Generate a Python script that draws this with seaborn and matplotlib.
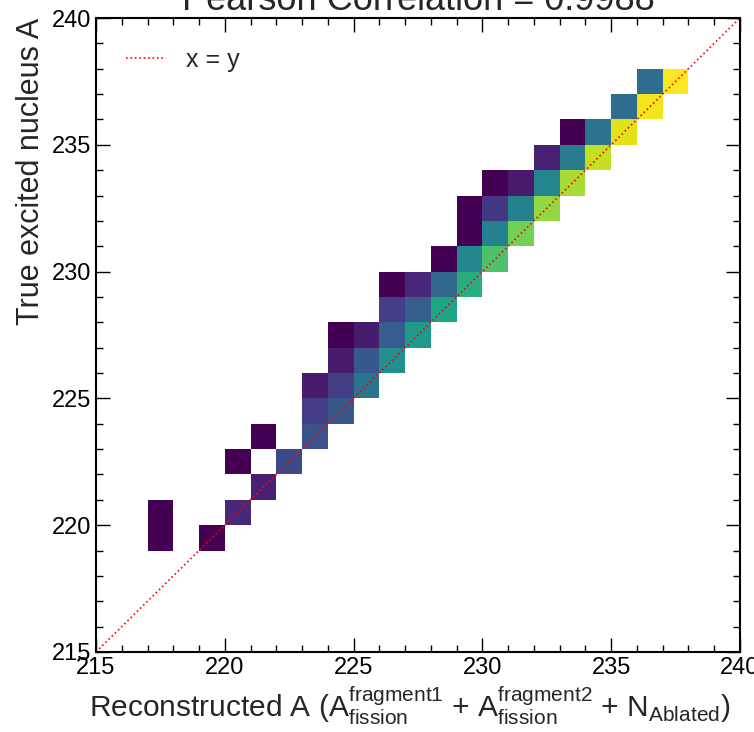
import numpy as np
import pandas as pd
import matplotlib
matplotlib.use('Agg')
import matplotlib.pyplot as plt
import seaborn as sns

# Bin left edges (reconstructed A, true A) and bin contents
reco_bin = [217, 217, 219, 220, 221, 220, 222, 221, 223, 223, 224, 223, 224, 225,
            224, 225, 226, 224, 225, 226, 227, 226, 227, 228, 226, 227, 228, 229,
            228, 229, 230, 229, 230, 231, 229, 230, 231, 232, 230, 231, 232, 233,
            232, 233, 234, 233, 234, 235, 235, 236, 236, 237]
true_bin = [219, 220, 219, 220, 221, 222, 222, 223, 223, 224, 224, 225, 225, 225,
            226, 226, 226, 227, 227, 227, 227, 228, 228, 228, 229, 229, 229, 229,
            230, 230, 230, 231, 231, 231, 232, 232, 232, 232, 233, 233, 233, 233,
            234, 234, 234, 235, 235, 235, 236, 236, 237, 237]
counts = [1, 1, 1, 12, 10, 1, 23, 1, 26, 19, 28, 8, 19, 39,
          8, 28, 50, 1, 8, 30, 54, 19, 30, 59, 1, 12, 34, 63,
          1, 46, 72, 1, 44, 79, 1, 17, 44, 84, 1, 8, 46, 87,
          10, 42, 91, 1, 39, 95, 36, 98, 36, 100]
pearson = 0.9988

sns.set_style('ticks')
plt.rcParams['font.family'] = ['Liberation Sans', 'DejaVu Sans']
plt.rcParams['mathtext.fontset'] = 'custom'
plt.rcParams['mathtext.rm'] = 'Liberation Sans'
plt.rcParams['mathtext.default'] = 'regular'
plt.rcParams.update({
    'xtick.direction': 'in', 'ytick.direction': 'in',
    'xtick.top': True, 'ytick.right': True,
    'xtick.major.size': 10, 'ytick.major.size': 10,
    'xtick.minor.size': 5, 'ytick.minor.size': 5,
    'xtick.major.width': 1, 'ytick.major.width': 1,
    'xtick.minor.width': 1, 'ytick.minor.width': 1,
    'xtick.color': 'black', 'ytick.color': 'black',
    'axes.edgecolor': 'black', 'axes.linewidth': 1.5,
})

df = pd.DataFrame({'reco': np.array(reco_bin) + 0.5,
                   'true': np.array(true_bin) + 0.5,
                   'n': counts})
edges = np.arange(215, 241)

fig = plt.figure(figsize=(7.54, 7.32), dpi=100)
ax = fig.add_axes([0.1273, 0.1093, 0.8541, 0.8661])

sns.histplot(data=df, x='reco', y='true', weights='n', bins=[edges, edges],
             cmap='viridis', vmin=1, vmax=100, ax=ax)
ax.plot([215, 240], [215, 240], ls=':', color='red', lw=1.2, label='x = y')

ax.set_xlim(215, 240)
ax.set_ylim(215, 240)
ax.set_xticks(np.arange(215, 241, 5))
ax.set_yticks(np.arange(215, 241, 5))
ax.set_xticks(np.arange(215, 241, 1), minor=True)
ax.set_yticks(np.arange(215, 241, 1), minor=True)
ax.tick_params(labelsize=17)
for s in ax.spines.values():
    s.set_visible(True)

ax.set_xlabel(r'Reconstructed A ($A^{fragment1}_{fission}$ + $A^{fragment2}_{fission}$ + $N_{Ablated}$)',
              fontsize=21.5, x=0.985, ha='right')
ax.set_ylabel('True excited nucleus A', fontsize=22, loc='top')
ax.set_title(f'Pearson Correlation = {pearson}', fontsize=26, pad=5)
ax.legend(loc='upper left', frameon=False, fontsize=18, handlelength=1.6,
          borderaxespad=0.8)

fig.savefig('out.png', dpi=100)
